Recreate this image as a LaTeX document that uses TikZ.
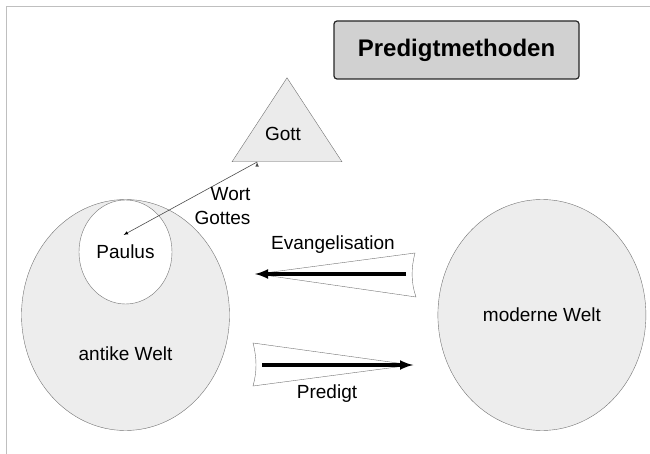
\documentclass[tikz,border=0pt]{standalone}
\usepackage{fontspec}
\setmainfont{Liberation Sans}
\tikzstyle{welt}=[ellipse,draw=black!55,fill=black!7,minimum width=208pt,minimum height=231pt]
\tikzstyle{person}=[ellipse,draw=black!55,fill=white,minimum width=93pt,minimum height=104pt]
\tikzstyle{gottheit}=[isosceles triangle,shape border rotate=90,isosceles triangle stretches,
draw=black!55,fill=black!8,minimum width=110pt,minimum height=84pt,inner sep=0pt]
\tikzstyle{titel}=[rectangle,rounded corners=3pt,draw=black!85,line width=1.2pt,
fill=black!18,minimum width=245pt,minimum height=58pt,font=\bfseries\fontsize{24}{28}\selectfont]
\tikzstyle{keil}=[draw=black!55,fill=white]
\tikzstyle{methode}=[line width=3.4pt,->]
\tikzstyle{wort}=[draw=black!70,line width=0.6pt,->]
\tikzstyle{rahmen}=[draw=black!25,line width=0.8pt]
\usetikzlibrary{arrows,positioning,shapes,calc}
\begin{document}
\begin{tikzpicture}[x=1pt,y=-1pt,>=latex,
  every node/.style={font=\fontsize{19}{24}\selectfont}]
            \useasboundingbox (0,0) rectangle (650,454);
            \draw[rahmen] (6,454) -- (6,6) -- (650,6);

            % TITLE PART

            \node[titel] (h1) at (456.5,50) {Predigtmethoden};

            % GOD PART

            \node[gottheit,anchor=lower side] (g1) at (287,162) {};
            \node (g2) at ($(g1.apex)+(-4,57)$) {Gott};
            \coordinate (z0) at ($(g1.left corner)!0.23!(g1.right corner)$);

            % WORLD PART

            \node[welt,label={[yshift=-39pt]center:antike Welt}] (w1) at (125.5,315) {};
            \node[person] (p1) at (125.5,252) {Paulus};
            \coordinate (z1) at ($(p1)+(-2,-17)$);
            \node[welt,right=208pt of w1] (w2) {moderne Welt};

            \path[wort] (z0) edge node {} (z1);
            \node[align=right,anchor=north east] (l1) at (254,184) {Wort\\Gottes};

            % METHOD PART

            \coordinate (e1) at (406,274);
            \coordinate (e2) at (255,274);
            \draw[keil] (257,274) -- (415,253) .. controls (411,268) and (411,283) .. (416,297) -- cycle;
            \path[methode] (e1) edge node {} (e2);
            \node (l2) at (333,245) {Evangelisation};

            \coordinate (m1) at (262,365);
            \coordinate (m2) at (413,365);
            \draw[keil] (253,343) .. controls (257,358) and (257,372) .. (253,386) -- (412,365) -- cycle;
            \path[methode] (m1) edge node {} (m2);
            \node (l3) at (327,394) {Predigt};

        \end{tikzpicture}
\end{document}
